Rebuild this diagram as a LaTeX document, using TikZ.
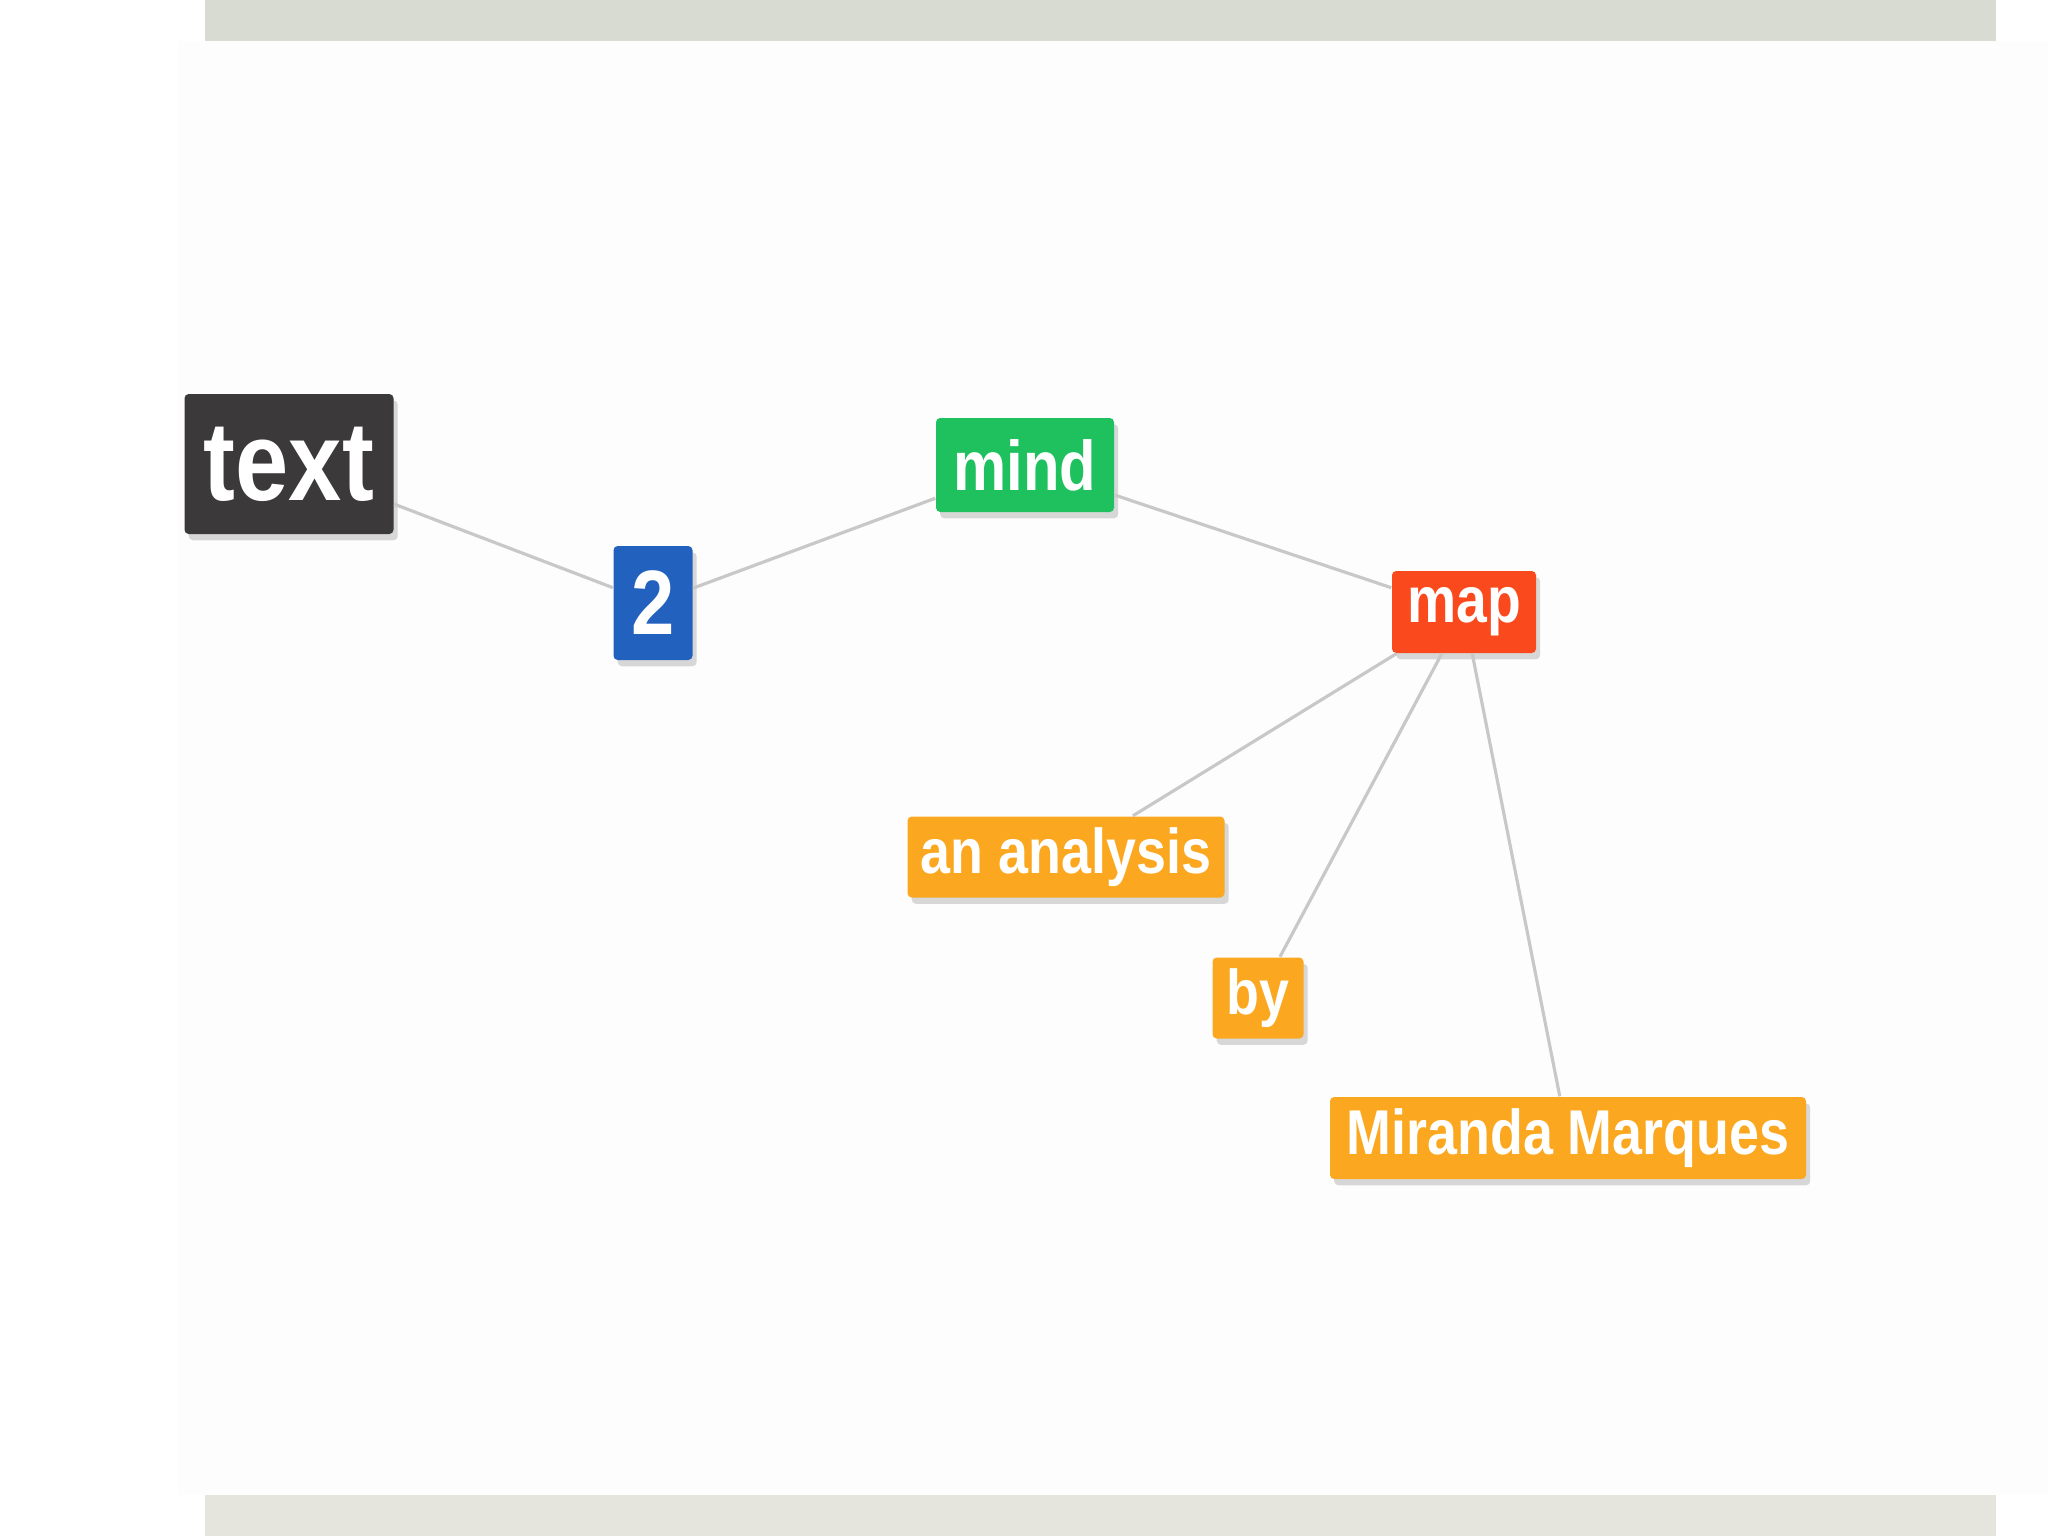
\documentclass[tikz,border=0pt]{standalone}
\usepackage{fontspec}
\setmainfont{Liberation Sans}[FakeStretch=0.85]
\usetikzlibrary{shadows}
\definecolor{topband}{HTML}{D8DBD1}
\definecolor{botband}{HTML}{E5E5DE}
\definecolor{panel}{HTML}{FDFDFD}
\definecolor{cdark}{HTML}{3B393A}
\definecolor{cblue}{HTML}{2262BE}
\definecolor{cgreen}{HTML}{1FC15E}
\definecolor{cred}{HTML}{FA4A1D}
\definecolor{corange}{HTML}{FBA820}
\definecolor{cedge}{HTML}{C8C8C8}
\tikzset{
  mmnode/.style={rectangle, rounded corners=1.2pt, inner sep=0pt, text=white, align=center,
    drop shadow={shadow xshift=1.2pt, shadow yshift=-1.8pt, fill=black, opacity=0.15}},
  mmedge/.style={draw=cedge, line width=0.9pt}
}
\begin{document}
\begin{tikzpicture}[x=0.01cm,y=-0.01cm]
\useasboundingbox (0,0) rectangle (2048,1536);
\fill[white] (0,0) rectangle (2048,1536);
\fill[panel] (178,41) rectangle (2048,1495);
\fill[topband] (205,0) rectangle (1996,41);
\fill[botband] (205,1495) rectangle (1996,1536);
% nodes
\node[mmnode, fill=cdark, minimum width=209*0.01cm, minimum height=140*0.01cm, font=\bfseries\fontsize{32}{36}\selectfont] (text) at (289,464) {text};
\node[mmnode, fill=cblue, minimum width=79*0.01cm, minimum height=114*0.01cm, font=\bfseries\fontsize{26}{30}\selectfont] (two) at (653,603) {2};
\node[mmnode, fill=cgreen, minimum width=178*0.01cm, minimum height=94*0.01cm, font=\bfseries\fontsize{20}{24}\selectfont] (mind) at (1025,465) {mind};
\node[mmnode, fill=cred, minimum width=144*0.01cm, minimum height=82*0.01cm, font=\bfseries\fontsize{18.5}{22}\selectfont] (map) at (1464,612) {map};
\node[mmnode, fill=corange, minimum width=317*0.01cm, minimum height=81*0.01cm, font=\bfseries\fontsize{18}{22}\selectfont] (an) at (1066,857) {an analysis};
\node[mmnode, fill=corange, minimum width=91*0.01cm, minimum height=81*0.01cm, font=\bfseries\fontsize{18}{22}\selectfont] (by) at (1258,998) {by};
\node[mmnode, fill=corange, minimum width=476*0.01cm, minimum height=82*0.01cm, font=\bfseries\fontsize{18}{22}\selectfont] (mm) at (1568,1138) {Miranda Marques};
% edges
\draw[mmedge] (text) -- (two);
\draw[mmedge] (two) -- (mind);
\draw[mmedge] (mind) -- (map);
\draw[mmedge] (map) -- (an);
\draw[mmedge] (map) -- (by);
\draw[mmedge] (map) -- (mm);
\end{tikzpicture}
\end{document}
